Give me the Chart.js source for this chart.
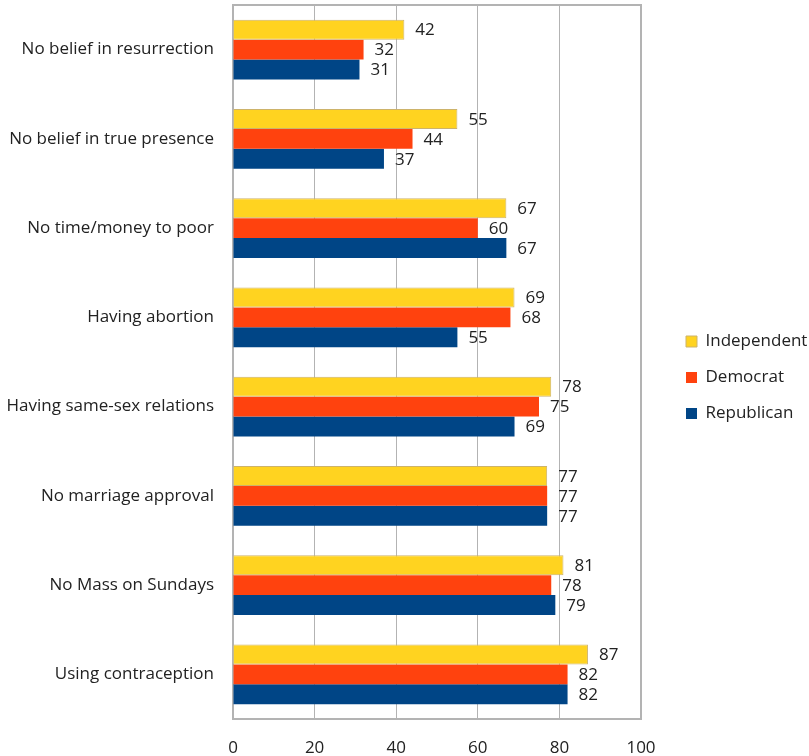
<!DOCTYPE html>
<html>
<head>
<meta charset="utf-8">
<script src="https://cdn.jsdelivr.net/npm/chart.js@4/dist/chart.umd.min.js"></script>
<style>
  html, body { margin: 0; padding: 0; background: #fff; }
  #wrap { width: 809px; height: 756px; position: relative; }
</style>
</head>
<body>
<div id="wrap"><canvas id="chart"></canvas></div>
<script>
  // ================== DATA ==================
  const categories = [
    "No belief in resurrection",
    "No belief in true presence",
    "No time/money to poor",
    "Having abortion",
    "Having same-sex relations",
    "No marriage approval",
    "No Mass on Sundays",
    "Using contraception",
  ];
  const independent = [42, 55, 67, 69, 78, 77, 81, 87];
  const democrat = [32, 44, 60, 68, 75, 77, 78, 82];
  const republican = [31, 37, 67, 55, 69, 77, 79, 82];
  const xTicks = [0, 20, 40, 60, 80, 100];

  const FONT = "Open Sans";
  const GRID = "#b3b3b3";

  // value labels right of each bar
  const valueLabels = {
    id: "valueLabels",
    afterDatasetsDraw(chart) {
      const ctx = chart.ctx;
      ctx.save();
      ctx.font = `17px ${FONT}`;
      ctx.fillStyle = "#222";
      ctx.textAlign = "left";
      ctx.textBaseline = "middle";
      chart.data.datasets.forEach((ds, i) => {
        chart.getDatasetMeta(i).data.forEach((bar, j) => {
          ctx.fillText(ds.data[j], bar.x + 11, bar.y + 1);
        });
      });
      ctx.restore();
    },
  };

  // plot frame + legend placement
  const frame = {
    id: "frame",
    beforeLayout(chart) {
      const lg = chart.legend;
      if (lg && !lg._patched) {
        const fit = lg.fit;
        lg.fit = function () {
          fit.call(this);
          this.width = 168;
        };
        lg._patched = true;
      }
    },
    afterLayout(chart) {
      const lg = chart.legend;
      lg.left += 26;
      lg.right += 26;
      lg.top -= 3;
      lg.bottom -= 3;
    },
    beforeDatasetsDraw(chart) {
      const { ctx, chartArea: a } = chart;
      ctx.save();
      ctx.strokeStyle = GRID;
      ctx.lineWidth = 2;
      ctx.strokeRect(a.left, a.top, a.right - a.left, a.bottom - a.top);
      ctx.restore();
    },
  };

  new Chart(document.getElementById("chart"), {
    type: "bar",
    data: {
      labels: categories,
      datasets: [
        {
          label: "Independent",
          data: independent,
          backgroundColor: "#ffd320",
          borderColor: "#cdb36a",
          borderWidth: 1,
          borderSkipped: "left",
        },
        { label: "Democrat", data: democrat, backgroundColor: "#ff420e" },
        { label: "Republican", data: republican, backgroundColor: "#004586" },
      ],
    },
    options: {
      indexAxis: "y",
      responsive: true,
      maintainAspectRatio: false,
      animation: false,
      categoryPercentage: 0.672,
      barPercentage: 1,
      layout: { padding: { top: 5, right: 0, left: 0, bottom: 0 } },
      scales: {
        x: {
          min: 0,
          max: 100,
          afterBuildTicks(scale) {
            scale.ticks = xTicks.map((v) => ({ value: v }));
          },
          afterFit(scale) {
            scale.height = 37;
          },
          grid: { color: GRID, lineWidth: 1, drawTicks: false },
          border: { display: false },
          ticks: { padding: 19, color: "#222", font: { family: FONT, size: 17 } },
        },
        y: {
          afterFit(scale) {
            scale.width = 233;
            scale.paddingTop = 0;
            scale.paddingBottom = 0;
          },
          grid: { display: false, drawTicks: false },
          border: { display: false },
          ticks: { padding: 19, color: "#222", font: { family: FONT, size: 17 } },
        },
      },
      plugins: {
        tooltip: { enabled: false },
        legend: {
          position: "right",
          align: "center",
          labels: {
            boxWidth: 11,
            boxHeight: 11,
            padding: 19,
            color: "#222",
            font: { family: FONT, size: 17 },
          },
        },
      },
    },
    plugins: [valueLabels, frame],
  });
</script>
</body>
</html>
